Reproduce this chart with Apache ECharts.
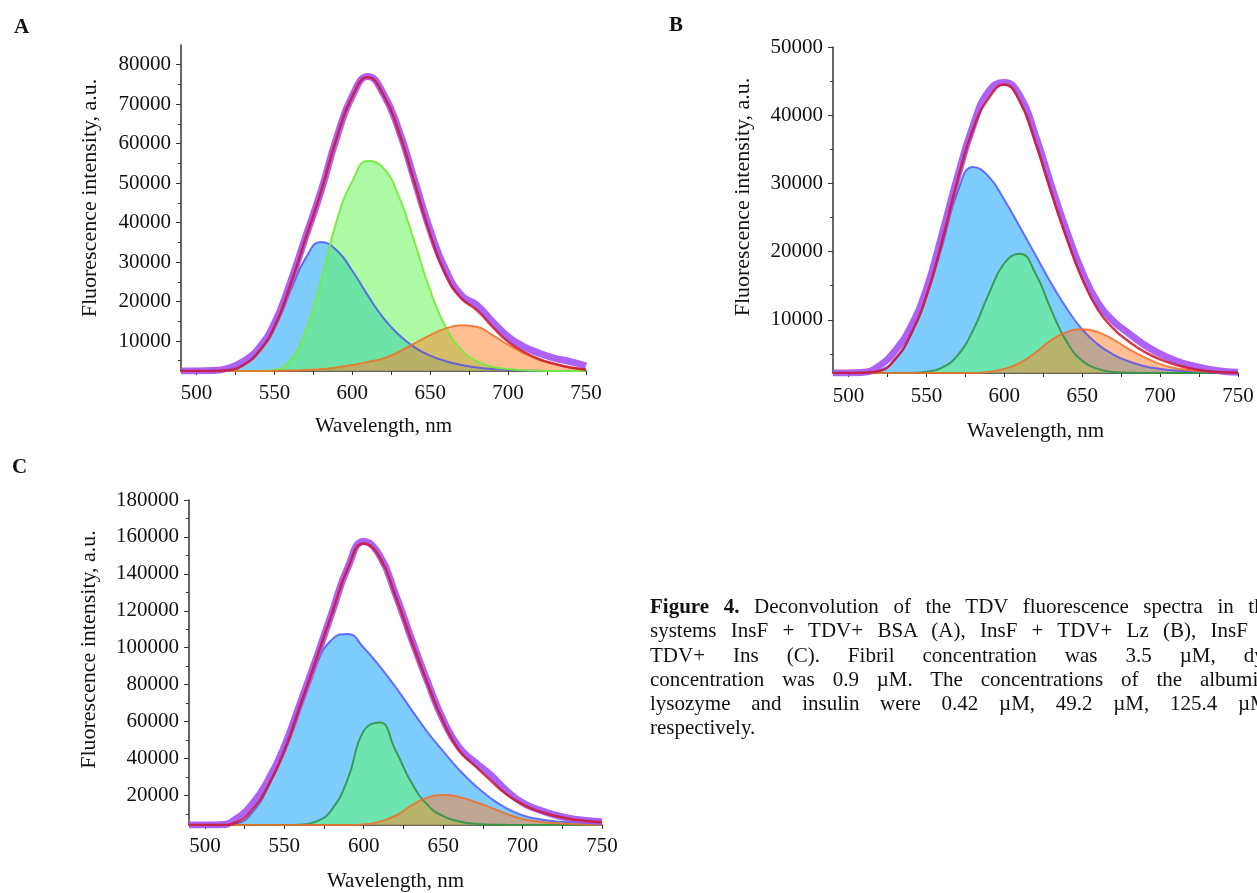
<!DOCTYPE html>
<html>
<head>
<meta charset="utf-8">
<script src="https://cdn.jsdelivr.net/npm/echarts@6/dist/echarts.min.js"></script>
<style>
html, body { margin: 0; padding: 0; background: #fff; overflow: hidden; }
#chart { position: absolute; left: 0; top: 0; width: 1257px; height: 893px; }
.caption { position: absolute; left: 650px; top: 594px; width: 624px;
  font-family: 'Liberation Serif', 'Times New Roman', serif; font-size: 21px;
  line-height: 24.3px; color: #111; }
.caption div { text-align: justify; text-align-last: justify; white-space: nowrap; }
.caption div.last { text-align-last: left; }
</style>
</head>
<body>
<div id="chart"></div>
<div class="caption">
  <div><b>Figure 4.</b> Deconvolution of the TDV fluorescence spectra in the</div>
  <div>systems InsF + TDV+ BSA (A), InsF + TDV+ Lz (B), InsF +</div>
  <div>TDV+ Ins (C). Fibril concentration was 3.5&nbsp;µM, dye</div>
  <div>concentration was 0.9&nbsp;µM. The concentrations of the albumin,</div>
  <div>lysozyme and insulin were 0.42 µM, 49.2 µM, 125.4 µM,</div>
  <div class="last">respectively.</div>
</div>
<script>
// wavelength grid, nm
var wl = [490, 500, 510, 520, 530, 540, 550, 560, 570, 580, 590, 600, 610, 620, 630, 640, 650, 660, 670, 680, 690, 700, 710, 720, 730, 740, 750];

// A: InsF + TDV + BSA
var aExp = [2400, 2400, 2500, 3100, 4800, 8200, 14500, 24600, 36400, 48100, 61600, 72100, 77000, 72600, 63300, 50700, 38000, 27900, 21600, 19100, 14900, 11100, 8600, 6900, 5600, 4800, 3700];
var aFit = [2400, 2400, 2400, 2600, 3900, 7300, 13600, 24000, 36000, 48000, 61500, 72000, 76800, 72300, 62800, 50000, 37000, 26800, 20800, 17800, 13600, 9800, 7300, 5400, 4200, 3300, 2700];
var aBlue = [2400, 2400, 2450, 2800, 4000, 7500, 13800, 22500, 31000, 35100, 33000, 27800, 21500, 15800, 11500, 8400, 6300, 4900, 3900, 3300, 2900, 2700, 2550, 2450, 2400, 2400, 2400];
var aGreen = [2400, 2400, 2400, 2400, 2400, 2400, 2700, 5000, 12500, 25500, 40500, 50500, 55600, 53800, 46500, 35000, 22800, 13500, 7800, 4900, 3500, 2900, 2600, 2450, 2400, 2400, 2400];
var aOrange = [2400, 2400, 2400, 2400, 2400, 2400, 2450, 2500, 2650, 2850, 3300, 3900, 4700, 5600, 7300, 9400, 11500, 13200, 14000, 13600, 11500, 9000, 6900, 5200, 4200, 3300, 2850];

// B: InsF + TDV + Lz
var bExp = [2200, 2200, 2300, 3300, 5500, 9000, 14500, 22500, 31000, 38500, 43500, 44800, 42800, 37000, 29800, 23000, 17000, 12500, 9800, 8000, 6300, 5000, 4000, 3300, 2800, 2450, 2300];
var bFit = [2200, 2200, 2250, 2500, 4300, 7900, 13500, 21500, 30500, 38000, 42500, 44500, 42000, 36000, 28800, 22000, 16000, 11500, 8700, 6800, 5300, 4200, 3400, 2850, 2500, 2300, 2250];
var bBlue = [2200, 2200, 2250, 2600, 4200, 7800, 13500, 20800, 28800, 32400, 31000, 27600, 23600, 19500, 15400, 11700, 8600, 6400, 4900, 3900, 3200, 2800, 2550, 2400, 2300, 2250, 2200];
var bGreen = [2200, 2200, 2200, 2200, 2200, 2200, 2400, 3000, 4800, 8500, 13800, 18300, 19700, 16800, 11500, 6800, 4000, 2800, 2350, 2250, 2200, 2200, 2200, 2200, 2200, 2200, 2200];
var bOrange = [2200, 2200, 2200, 2200, 2200, 2200, 2200, 2200, 2200, 2200, 2350, 2800, 3700, 5200, 7000, 8200, 8600, 8200, 7100, 5700, 4500, 3500, 2900, 2600, 2400, 2300, 2250];

// C: InsF + TDV + Ins
var cExp = [4000, 4000, 4100, 7500, 15500, 28500, 46500, 70000, 94000, 119000, 143500, 157500, 150000, 129000, 105000, 82000, 61000, 46000, 38000, 31000, 22500, 16000, 12300, 9500, 7600, 6500, 5800];
var cFit = [4000, 4000, 4000, 5500, 12500, 25500, 44000, 68500, 93500, 118500, 143000, 156500, 149000, 128000, 104000, 81000, 60000, 44500, 36000, 28000, 20500, 15200, 11500, 9000, 7300, 6200, 5500];
var cBlue = [4000, 4000, 4000, 4800, 11000, 25000, 46000, 70000, 91000, 104500, 107500, 100000, 90000, 78800, 66500, 54500, 44000, 34000, 25500, 18500, 13000, 9300, 7200, 6100, 5500, 5100, 4900];
var cGreen = [4000, 4000, 4000, 4000, 4000, 4000, 4000, 4200, 5800, 12500, 29000, 55000, 59500, 44500, 27000, 15000, 8800, 5900, 4700, 4200, 4050, 4000, 4000, 4000, 4000, 4000, 4000];
var cOrange = [4000, 4000, 4000, 4000, 4000, 4000, 4000, 4000, 4000, 4000, 4000, 4300, 5800, 9000, 14500, 18800, 20200, 19200, 16600, 13400, 10000, 7300, 5900, 5100, 4600, 4300, 4100];

// tick labels
var xLabels = [500, 550, 600, 650, 700, 750];
var xTicks = [500, 525, 550, 575, 600, 625, 650, 675, 700, 725, 750];
var aYLabels = [10000, 20000, 30000, 40000, 50000, 60000, 70000, 80000];
var aYMinor = [5000, 15000, 25000, 35000, 45000, 55000, 65000, 75000];
var bYLabels = [10000, 20000, 30000, 40000, 50000];
var bYMinor = [5000, 15000, 25000, 35000, 45000];
var cYLabels = [20000, 40000, 60000, 80000, 100000, 120000, 140000, 160000, 180000];
var cYMinor = [10000, 30000, 50000, 70000, 90000, 110000, 130000, 150000, 170000];

var FONT = "'Liberation Serif', 'Times New Roman', serif";
var AXIS = '#333';

function pairs(vals) {
    return wl.map(function (x, i) { return [x, vals[i]]; });
}
function plain(v) { return String(v); }

var panels = [
    { grid: { left: 181, top: 45, width: 405, height: 326 }, min: 2400, max: 85000, labels: aYLabels, minor: aYMinor,
      yGap: 80, xGap: 45, xMargin: 12, lift: 20,
      exp: aExp, fit: aFit, blue: aBlue, green: aGreen, orange: aOrange,
      greenLine: 'rgba(120,235,60,0.95)', greenFill: 'rgba(92,250,75,0.5)' },
    { grid: { left: 833, top: 47, width: 405, height: 326 }, min: 2200, max: 50000, labels: bYLabels, minor: bYMinor,
      yGap: 79, xGap: 48, xMargin: 13, lift: 26,
      exp: bExp, fit: bFit, blue: bBlue, green: bGreen, orange: bOrange,
      greenLine: 'rgba(50,150,70,0.9)', greenFill: 'rgba(94,252,97,0.5)' },
    { grid: { left: 189, top: 500, width: 413, height: 327 }, min: 4000, max: 180000, labels: cYLabels, minor: cYMinor,
      yGap: 89, xGap: 46, xMargin: 11, lift: 26,
      exp: cExp, fit: cFit, blue: cBlue, green: cGreen, orange: cOrange,
      greenLine: 'rgba(50,150,70,0.9)', greenFill: 'rgba(94,252,97,0.5)' }
];

var grids = [], xAxes = [], yAxes = [], series = [];

panels.forEach(function (p, i) {
    grids.push(p.grid);
    xAxes.push({
        type: 'value', gridIndex: i, min: 490, max: 750,
        name: 'Wavelength, nm', nameLocation: 'middle', nameGap: p.xGap,
        nameTextStyle: { fontFamily: FONT, fontSize: 21, color: '#111' },
        axisLine: { show: true, onZero: false, lineStyle: { color: AXIS, width: 1.5 } },
        axisTick: { show: true, customValues: xTicks, length: 4, lineStyle: { color: AXIS } },
        axisLabel: { customValues: xLabels, formatter: plain, fontFamily: FONT, fontSize: 21, color: '#111', margin: p.xMargin },
        splitLine: { show: false }
    });
    yAxes.push({
        type: 'value', gridIndex: i, min: p.min, max: p.max, position: 'left',
        name: 'Fluorescence intensity, a.u.', nameLocation: 'middle', nameGap: p.yGap,
        // left padding lifts the rotated title a little above the axis centre
        nameTextStyle: { fontFamily: FONT, fontSize: 22, color: '#111', padding: [0, 0, 0, p.lift] },
        axisLine: { show: true, lineStyle: { color: AXIS, width: 1.5 } },
        axisTick: { show: true, customValues: p.labels, length: 5, lineStyle: { color: AXIS } },
        axisLabel: { customValues: p.labels, formatter: plain, fontFamily: FONT, fontSize: 21, color: '#111', margin: 10 },
        splitLine: { show: false }
    });
    yAxes.push({
        type: 'value', gridIndex: i, min: p.min, max: p.max, position: 'left',
        axisLine: { show: false },
        axisTick: { show: true, customValues: p.minor, length: 3, lineStyle: { color: AXIS } },
        axisLabel: { show: false },
        splitLine: { show: false }
    });

    function band(vals, line, fill, w) {
        return {
            type: 'line', xAxisIndex: i, yAxisIndex: i * 2, data: pairs(vals),
            smooth: 0.5, symbol: 'none', silent: true,
            lineStyle: { color: line, width: w },
            areaStyle: { color: fill, opacity: 1, origin: 'start' }
        };
    }
    series.push(band(p.blue, 'rgba(70,70,250,0.75)', 'rgba(0,153,255,0.5)', 2));
    series.push(band(p.green, p.greenLine, p.greenFill, 2));
    series.push(band(p.orange, 'rgba(240,110,40,0.85)', 'rgba(255,127,39,0.5)', 2));
    series.push({
        type: 'line', xAxisIndex: i, yAxisIndex: i * 2, data: pairs(p.exp),
        smooth: 0.5, symbol: 'none', silent: true,
        lineStyle: { color: 'rgba(165,80,245,0.9)', width: 7 }
    });
    series.push({
        type: 'line', xAxisIndex: i, yAxisIndex: i * 2, data: pairs(p.fit),
        smooth: 0.5, symbol: 'none', silent: true,
        lineStyle: { color: 'rgba(205,25,45,0.85)', width: 2.5 }
    });
});

var chart = echarts.init(document.getElementById('chart'), null, { renderer: 'canvas' });
chart.setOption({
    animation: false,
    backgroundColor: '#fff',
    title: [
        { text: 'A', left: 9, top: 12, textStyle: { fontFamily: FONT, fontSize: 21, fontWeight: 'bold', color: '#111' } },
        { text: 'B', left: 664, top: 10, textStyle: { fontFamily: FONT, fontSize: 21, fontWeight: 'bold', color: '#111' } },
        { text: 'C', left: 7, top: 452, textStyle: { fontFamily: FONT, fontSize: 21, fontWeight: 'bold', color: '#111' } }
    ],
    grid: grids,
    xAxis: xAxes,
    yAxis: yAxes,
    series: series
});
</script>
</body>
</html>
